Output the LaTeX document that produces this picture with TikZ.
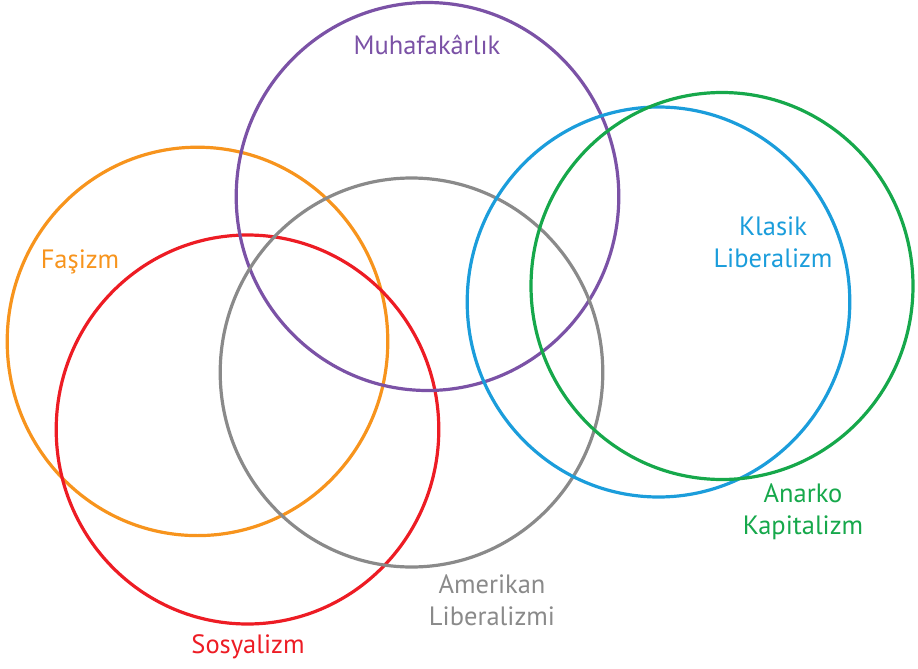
\documentclass[tikz,border=0pt]{standalone}
\usepackage{fontspec}
\setmainfont{PT Sans}
\definecolor{cpurple}{HTML}{7B52A6}
\definecolor{corange}{HTML}{F7941D}
\definecolor{cred}{HTML}{ED1C24}
\definecolor{cgray}{HTML}{8A8A8A}
\definecolor{cblue}{HTML}{1B9DDB}
\definecolor{cgreen}{HTML}{16A84B}
\begin{document}
\begin{tikzpicture}[x=1pt,y=-1pt,
  ring/.style={draw,line width=3.2pt},
  lbl/.style={font=\fontsize{26.5}{32}\selectfont,align=center,inner sep=0pt}]
\useasboundingbox (0,0) rectangle (918,669);
\draw[ring,corange] (197.5,341.4) ellipse[x radius=190.3,y radius=194.2];
\draw[ring,cred] (247.5,429.5) ellipse[x radius=191.3,y radius=194.5];
\draw[ring,cpurple] (427.5,196.5) ellipse[x radius=191.3,y radius=194];
\draw[ring,cgray] (411.5,372.5) ellipse[x radius=191.3,y radius=194.5];
\draw[ring,cblue] (658.5,302) ellipse[x radius=191.3,y radius=195];
\draw[ring,cgreen] (722,286) ellipse[x radius=191,y radius=193.5];
\node[lbl,text=cpurple] (muh) at (427,45) {Muhafakârlık};
\node[lbl,text=corange] (fas) at (80,262) {Faşizm};
\node[lbl,text=cblue] (kla) at (773,242) {Klasik\\Liberalizm};
\node[lbl,text=cgreen] (ana) at (803,512) {Anarko\\Kapitalizm};
\node[lbl,text=cgray] (ame) at (492,600) {Amerikan\\Liberalizmi};
\node[lbl,text=cred] (sos) at (248,647) {Sosyalizm};
\end{tikzpicture}
\end{document}
